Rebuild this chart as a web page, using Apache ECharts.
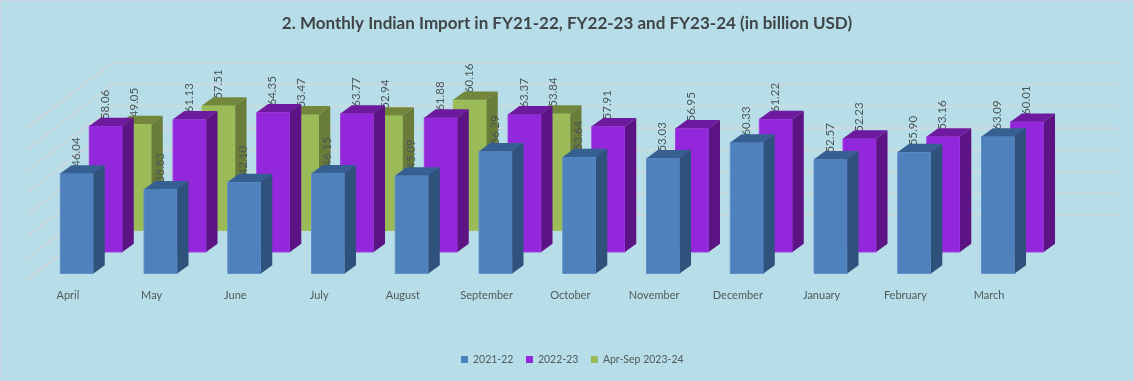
<!DOCTYPE html>
<html>
<head>
<meta charset="utf-8">
<style>html,body{margin:0;padding:0;background:#B7DEE8}#c{width:1134px;height:381px}</style>
<script src="https://cdn.jsdelivr.net/npm/echarts@6/dist/echarts.min.js"></script>
</head>
<body>
<div id="c"></div>
<script>
const months = ['April','May','June','July','August','September','October','November','December','January','February','March'];
const fy2122 = [46.04,38.83,42.10,46.15,45.09,56.29,53.64,53.03,60.33,52.57,55.90,63.09];
const fy2223 = [58.06,61.13,64.35,63.77,61.88,63.37,57.91,56.95,61.22,52.23,53.16,60.01];
const fy2324 = [49.05,57.51,53.47,52.94,60.16,53.84];
const gridValues = [0,10,20,30,40,50,60,70];
const titleText = '2. Monthly Indian Import in FY21-22, FY22-23 and FY23-24 (in billion USD)';

const FONT = 'Lato';
const BAR_W = 33.2, DEPTH_X = 11.3, DEPTH_Y = 8.3;

function pairs(arr){ return arr.map((v,i)=>[i,v]); }

function barRenderer(offX, offY, front, edge, side, top){
  return function(params, api){
    const idx = api.value(0), val = api.value(1);
    const pt = api.coord([idx,val]);
    const base = api.coord([idx,0]);
    const x = pt[0]-BAR_W/2+offX, r = x+BAR_W;
    const yT = pt[1]+offY, yB = base[1]+offY;
    return {type:'group',children:[
      {type:'text',z2:1,x:pt[0]+offX-0.8,y:yT-DEPTH_Y+1.5,rotation:Math.PI/2,silent:true,
        style:{text:val.toFixed(2),textAlign:'left',textVerticalAlign:'middle',
          font:'11.5px '+FONT,fill:'#4a5557'}},
      {type:'rect',z2:2,shape:{x:x,y:yT,width:BAR_W,height:yB-yT},style:{fill:front,stroke:edge,lineWidth:1}},
      {type:'polygon',z2:2,shape:{points:[[x,yT],[r,yT],[r+DEPTH_X,yT-DEPTH_Y],[x+DEPTH_X,yT-DEPTH_Y]]},style:{fill:top}},
      {type:'polygon',z2:2,shape:{points:[[r,yT],[r+DEPTH_X,yT-DEPTH_Y],[r+DEPTH_X,yB-DEPTH_Y],[r,yB]]},style:{fill:side}}
    ]};
  };
}

function wallRenderer(params, api){
  const v = api.value(1);
  const p = api.coord([0,v]);
  const band = api.size([1,0])[0];
  const xF = p[0]-band/2-8, yF = p[1]+6.5;
  const xB = xF+85, yB = yF-65;
  return {type:'polyline',shape:{points:[[xF,yF],[xB,yB],[xB+1006,yB]]},
    style:{fill:null,stroke:'#CFD9DB',lineWidth:1.6}};
}

const chart = echarts.init(document.getElementById('c'));
chart.setOption({
  animation:false,
  backgroundColor:'#B7DEE8',
  title:{text:titleText,left:'center',top:10,
    textStyle:{fontFamily:FONT,fontSize:17,fontWeight:'bold',color:'#404548'}},
  legend:{data:['2021-22','2022-23','Apr-Sep 2023-24'],left:456,bottom:11,itemWidth:7,itemHeight:7,itemGap:12.5,icon:'rect',
    textStyle:{fontFamily:FONT,fontSize:10.5,color:'#4f5a5d'}},
  graphic:[{type:'rect',silent:true,z:100,shape:{x:0.5,y:0.5,width:1133,height:380},style:{fill:null,stroke:'#CBD3DE',lineWidth:1}}],
  grid:{left:35,width:1005,top:121.5,height:152,containLabel:false},
  xAxis:{type:'category',data:months,axisLine:{show:false},axisTick:{show:false},splitLine:{show:false},
    axisLabel:{interval:0,margin:16,padding:[0,18,0,0],fontFamily:FONT,fontSize:11,color:'#4f5a5d'}},
  yAxis:{type:'value',min:0,max:70,interval:10,show:false,splitLine:{show:false}},
  series:[
    {type:'custom',name:'walls',z:1,data:gridValues.map(v=>[0,v]),renderItem:wallRenderer,silent:true,encode:{x:0,y:1}},
    {type:'custom',name:'Apr-Sep 2023-24',z:2,data:pairs(fy2324),itemStyle:{color:'#9BBB59'},encode:{x:0,y:1},
      renderItem:barRenderer(58,-43,'#9BBB59','#A4C264','#697D38','#72863C')},
    {type:'custom',name:'2022-23',z:3,data:pairs(fy2223),itemStyle:{color:'#9327DC'},encode:{x:0,y:1},
      renderItem:barRenderer(29,-21.5,'#9327DC','#A03FE0','#5C1485','#6E1A9E')},
    {type:'custom',name:'2021-22',z:4,data:pairs(fy2122),itemStyle:{color:'#4F81BD'},encode:{x:0,y:1},
      renderItem:barRenderer(0,0,'#4F81BD','#5F8FC8','#2F527C','#376092')}
  ]
});
</script>
</body>
</html>
